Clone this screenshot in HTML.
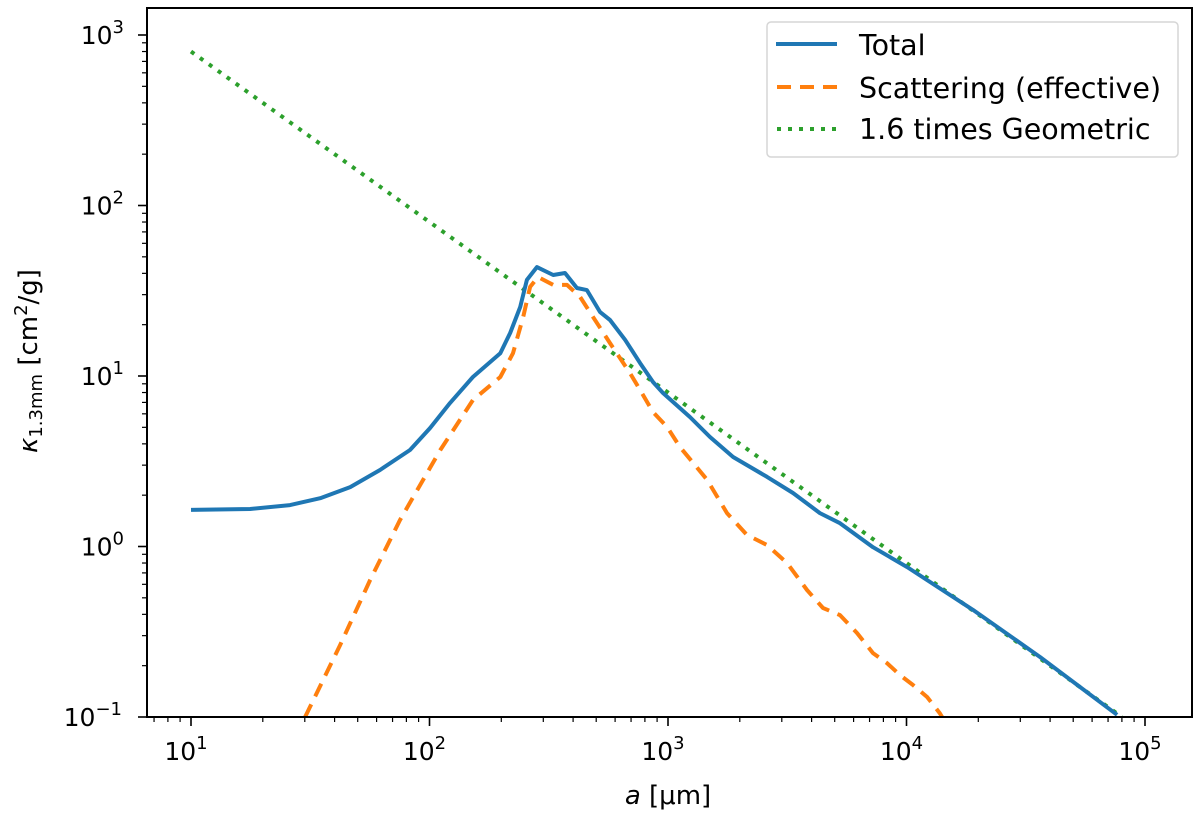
<!DOCTYPE html>
<html><head><meta charset="utf-8"><style>
html,body{margin:0;padding:0;background:#fff}
svg{display:block;font-family:"DejaVu Sans","Liberation Sans",sans-serif}
</style></head><body>
<svg id="chart" width="1200" height="815" viewBox="0 0 1200 815">
<defs><clipPath id="clip"><rect x="147" y="8" width="1045" height="709"/></clipPath></defs>
<rect x="0" y="0" width="1200" height="815" fill="#fff"/>
<g id="axes"></g>
<g id="series" clip-path="url(#clip)"></g>
<rect x="147" y="8" width="1045" height="709" fill="none" stroke="#000" stroke-width="2"/>
<g>
<rect x="767" y="22" width="411" height="135" rx="4" fill="#fff" stroke="#d6d6d6" stroke-width="1.5"/>
<line x1="776" y1="44" x2="837" y2="44" stroke="#1f77b4" stroke-width="4"/>
<text x="859" y="55" font-size="28.5">Total</text>
<line x1="777" y1="87" x2="837" y2="87" stroke="#ff7f0e" stroke-width="4" stroke-dasharray="14,9"/>
<text x="859" y="98" font-size="28.5">Scattering (effective)</text>
<line x1="777" y1="129" x2="837" y2="129" stroke="#2ca02c" stroke-width="4" stroke-dasharray="4,7"/>
<text x="859" y="139" font-size="28.5">1.6 times Geometric</text>
</g>
<text x="668" y="804" font-size="26" text-anchor="middle"><tspan font-style="italic">a</tspan> [μm]</text>
<text transform="translate(37,361) rotate(-90)" font-size="26" text-anchor="middle"><tspan font-style="italic">κ</tspan><tspan font-size="18" dy="5">1.3mm</tspan><tspan dy="-5"> [cm</tspan><tspan font-size="18" dy="-10">2</tspan><tspan dy="10">/g]</tspan></text>
</svg>
<script>
const totalA=[10,17.7,26,34.8,46.5,62,82.8,100.5,122,152,198,218,240,256,282,330,370,415,457,519,571,661,764,865,953,1236,1500,1874,2603,3343,4335,5260,7240,10050,19000,36300,76400];
const totalK=[1.64,1.66,1.75,1.92,2.23,2.81,3.68,4.95,6.95,9.87,13.6,17.9,25.4,36.6,43.5,39.1,40.2,32.8,31.9,23.7,21.3,16.3,11.9,9.22,7.95,5.75,4.39,3.35,2.56,2.06,1.57,1.37,0.99,0.758,0.425,0.225,0.103];
const scatA=[30.1,42.2,56.4,75.2,100.5,111,152,198,224,247,264,285,330,377,428,485,571,693,764,865,991,1122,1458,1767,2143,2600,3155,3828,4467,5260,6200,7240,8280,9390,10650,12200,13800,14100];
const scatK=[0.1,0.264,0.637,1.43,2.89,3.68,7.22,9.87,13.6,22.2,33.3,38.1,34.2,34.2,29.1,22.2,15.6,10.4,8.28,6.15,5.02,3.84,2.46,1.57,1.17,1.02,0.80,0.556,0.436,0.396,0.311,0.237,0.207,0.176,0.154,0.131,0.105,0.1];
const geoA=[10,80000];
const geoK=[800,0.1];
const xTicks=[1,2,3,4,5];
const yTicks=[-1,0,1,2,3];
const NS='http://www.w3.org/2000/svg';
function X(a){return 191+(Math.log10(a)-1)*238.5;}
function Y(k){return 35+(3-Math.log10(k))*170.5;}
function mk(t,at){const e=document.createElementNS(NS,t);for(const k in at)e.setAttribute(k,at[k]);return e;}
const axes=document.getElementById('axes');
const ser=document.getElementById('series');
for(const p of xTicks){
  const x=X(Math.pow(10,p));
  const t=mk('line',{x1:x,y1:717,x2:x,y2:726,stroke:'#000','stroke-width':1.6});
  
  
  axes.appendChild(t);
  const l=mk('text',{x:x-5,y:760,'font-size':25,'text-anchor':'middle'});
  
  
  l.innerHTML='10<tspan font-size="18" dy="-11">'+p+'</tspan>';
  axes.appendChild(l);
}
for(let p=0;p<5;p++)for(let m=2;m<10;m++){
  const x=X(m*Math.pow(10,p));
  if(x<147||x>1192)continue;
  const t=mk('line',{x1:x,y1:717,x2:x,y2:722,stroke:'#000','stroke-width':1.2});
  
  
  axes.appendChild(t);
}
for(const p of yTicks){
  const y=Y(Math.pow(10,p));
  const t=mk('line',{x1:138,y1:y,x2:147,y2:y,stroke:'#000','stroke-width':1.6});
  
  
  axes.appendChild(t);
  const l=mk('text',{x:p<0?122:124,y:y+9,'font-size':25,'text-anchor':'end'});
  
  
  l.innerHTML='10<tspan font-size="18" dy="-11">'+(p<0?'−1':p)+'</tspan>';
  axes.appendChild(l);
}
for(let p=-1;p<3;p++)for(let m=2;m<10;m++){
  const y=Y(m*Math.pow(10,p));
  const t=mk('line',{x1:142,y1:y,x2:147,y2:y,stroke:'#000','stroke-width':1.2});
  
  
  axes.appendChild(t);
}
function path(A,K){return A.map((a,i)=>(i?'L':'M')+X(a).toFixed(1)+','+Y(K[i]).toFixed(1)).join('');}
const g=mk('path',{d:path(geoA,geoK),fill:'none',stroke:'#2ca02c','stroke-width':4,'stroke-dasharray':'4,7'});


ser.appendChild(g);
const s=mk('path',{d:path(scatA,scatK),fill:'none',stroke:'#ff7f0e','stroke-width':4,'stroke-dasharray':'14,9','stroke-linejoin':'round'});


ser.appendChild(s);
const tt=mk('path',{d:path(totalA,totalK),fill:'none',stroke:'#1f77b4','stroke-width':4,'stroke-linejoin':'round'});


ser.appendChild(tt);
</script>
</body></html>
